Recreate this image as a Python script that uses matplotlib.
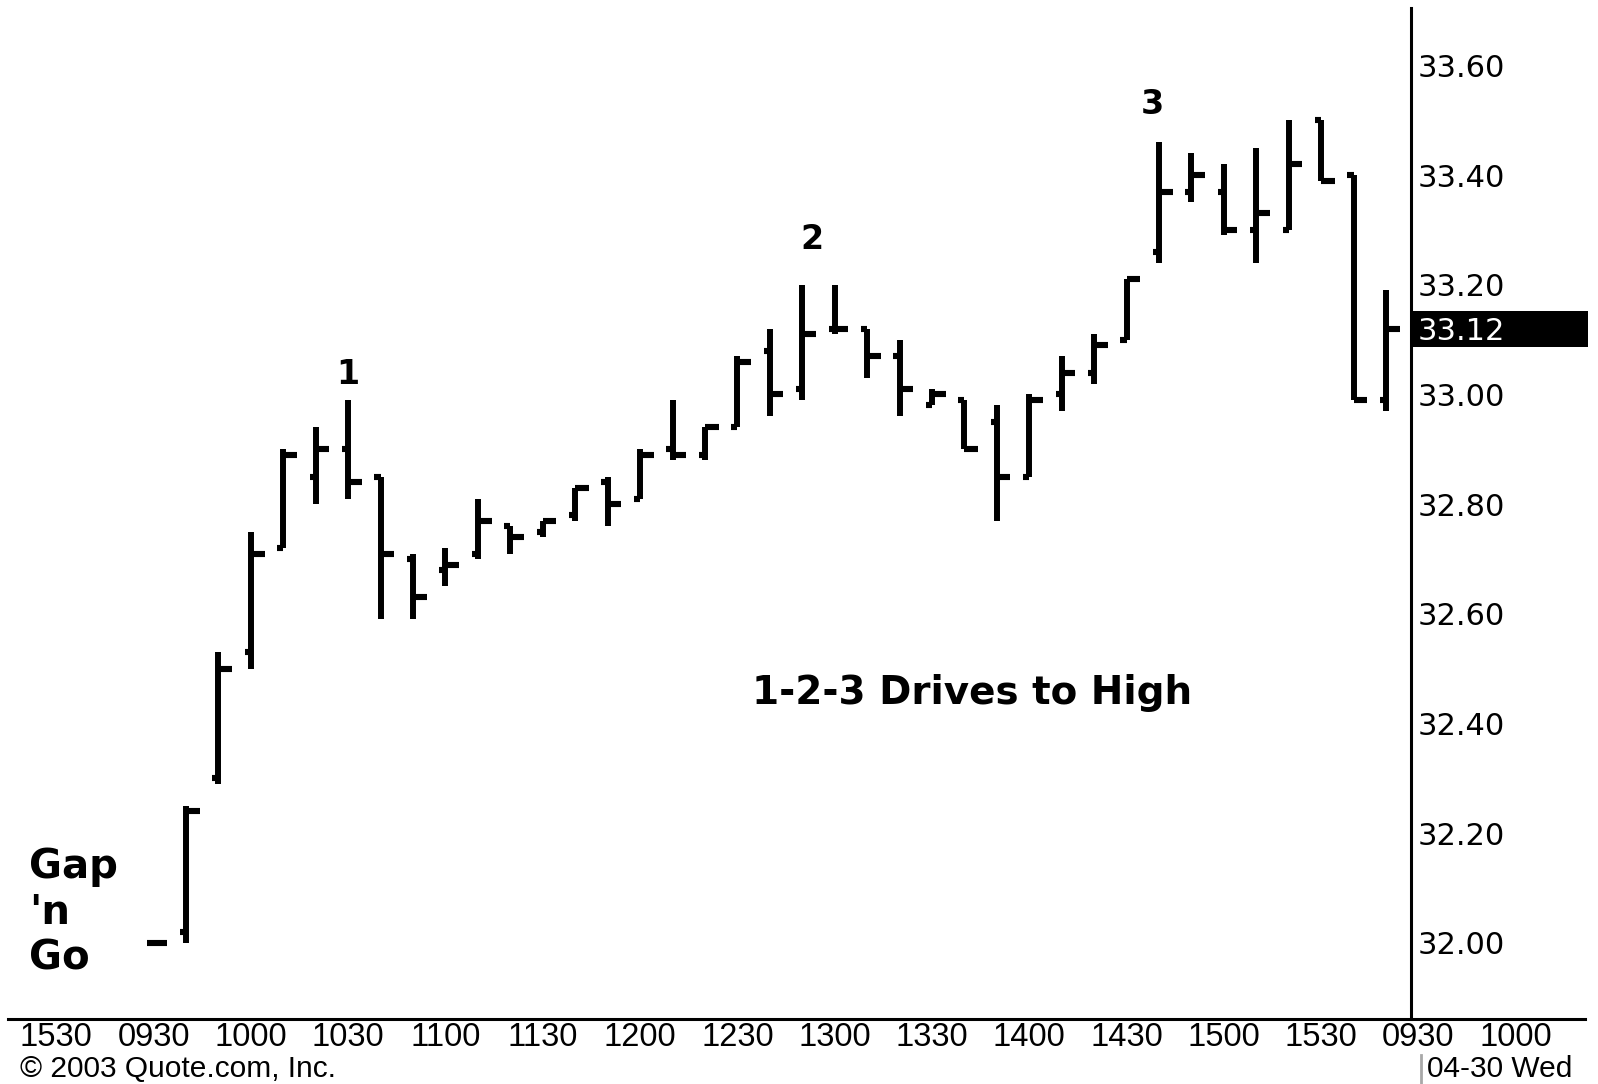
#!/usr/bin/env python3
"""
10-minute OHLC bar chart: gap open followed by 1-2-3 drives to a high (04-30-2003).
"""

import matplotlib
matplotlib.use('Agg')
import matplotlib.pyplot as plt
from matplotlib.patches import Rectangle
from matplotlib.lines import Line2D
from matplotlib.transforms import blended_transform_factory

# bar 0 is the 0930 opening print, then 10-minute bars (labelled by end time)
bar_index = list(range(39))
opens = [32.00, 32.02, 32.30, 32.53, 32.72, 32.85, 32.90, 32.85, 32.70, 32.68,
         32.71, 32.76, 32.75, 32.78, 32.84, 32.81, 32.90, 32.89, 32.94, 33.08,
         33.01, 33.12, 33.12, 33.07, 32.98, 32.99, 32.95, 32.85, 33.00, 33.04,
         33.10, 33.26, 33.37, 33.37, 33.30, 33.30, 33.50, 33.40, 32.99]
highs = [32.00, 32.25, 32.53, 32.75, 32.90, 32.94, 32.99, 32.85, 32.71, 32.72,
         32.81, 32.76, 32.77, 32.83, 32.85, 32.90, 32.99, 32.94, 33.07, 33.12,
         33.20, 33.20, 33.12, 33.10, 33.01, 32.99, 32.98, 33.00, 33.07, 33.11,
         33.21, 33.46, 33.44, 33.42, 33.45, 33.50, 33.50, 33.40, 33.19]
lows = [32.00, 32.00, 32.29, 32.50, 32.72, 32.80, 32.81, 32.59, 32.59, 32.65,
        32.70, 32.71, 32.74, 32.77, 32.76, 32.81, 32.88, 32.88, 32.94, 32.96,
        32.99, 33.11, 33.03, 32.96, 32.98, 32.90, 32.77, 32.85, 32.97, 33.02,
        33.10, 33.24, 33.35, 33.29, 33.24, 33.30, 33.39, 32.99, 32.97]
closes = [32.00, 32.24, 32.50, 32.71, 32.89, 32.90, 32.84, 32.71, 32.63, 32.69,
          32.77, 32.74, 32.77, 32.83, 32.80, 32.89, 32.89, 32.94, 33.06, 33.00,
          33.11, 33.12, 33.07, 33.01, 33.00, 32.90, 32.85, 32.99, 33.04, 33.09,
          33.21, 33.37, 33.40, 33.30, 33.33, 33.42, 33.39, 32.99, 33.12]

time_ticks = [-3, 0, 3, 6, 9, 12, 15, 18, 21, 24, 27, 30, 33, 36, 39, 42]
time_labels = ['1530', '0930', '1000', '1030', '1100', '1130', '1200', '1230',
               '1300', '1330', '1400', '1430', '1500', '1530', '0930', '1000']
price_ticks = [32.00, 32.20, 32.40, 32.60, 32.80, 33.00, 33.20, 33.40, 33.60]
last_price = 33.12

swing_labels = ['1', '2', '3']
swing_x = [6.0, 20.3, 30.8]
swing_y = [33.036, 33.282, 33.528]

W, H = 1598, 1084


def px_box(x0, y0, x1, y1):
    """Axes rectangle from pixel corners (origin top-left)."""
    return [x0 / W, 1 - y1 / H, (x1 - x0) / W, (y1 - y0) / H]


def draw_bars(ax):
    """Classic OHLC bars: short open tick left, longer close tick right."""
    ax.vlines(bar_index, lows, highs, color='black', linewidth=4.3, capstyle='butt')
    ax.hlines(opens, [i - 0.19 for i in bar_index], bar_index,
              color='black', linewidth=4.4, capstyle='butt')
    ax.hlines(closes, bar_index, [i + 0.42 for i in bar_index],
              color='black', linewidth=4.4, capstyle='butt')


def main():
    plt.rcParams['font.family'] = ['DejaVu Sans']
    fig = plt.figure(figsize=(W / 100, H / 100), dpi=100)
    fig.patch.set_facecolor('white')

    # time axis runs on under the price scale
    ax_t = fig.add_axes(px_box(8, 8, 1585, 1019))
    ax_t.set_xlim(-4.49, 44.14)
    ax_t.set_ylim(0, 1)
    for s in ['top', 'left', 'right']:
        ax_t.spines[s].set_visible(False)
    ax_t.spines['bottom'].set_linewidth(2.2)
    ax_t.set_yticks([])
    ax_t.set_xticks(time_ticks, time_labels)
    ax_t.tick_params(axis='x', length=0, pad=2.5, labelsize=23.5)
    for lbl in ax_t.get_xticklabels():
        lbl.set_family(['Liberation Sans', 'DejaVu Sans'])

    # price pane
    ax = fig.add_axes(px_box(0, 8, 1411, 1019))
    ax.patch.set_visible(False)
    ax.set_xlim(-4.736, 38.77)
    ax.set_ylim(31.8614, 33.7046)
    for s in ['top', 'left', 'bottom']:
        ax.spines[s].set_visible(False)
    ax.spines['right'].set_linewidth(2.2)
    ax.set_xticks([])
    ax.yaxis.tick_right()
    ax.set_yticks(price_ticks, [f'{p:.2f}' for p in price_ticks])
    ax.tick_params(axis='y', length=0, pad=5, labelsize=22)

    draw_bars(ax)

    # last price flag
    trans = blended_transform_factory(fig.transFigure, ax.transData)
    ax.add_patch(Rectangle((1412 / W, last_price - 0.034), (1588 - 1412) / W, 0.067,
                           transform=trans, facecolor='black', edgecolor='none',
                           clip_on=False))
    ax.text(1418 / W, last_price, f'{last_price:.2f}', transform=trans, color='white',
            fontsize=22, ha='left', va='center_baseline', clip_on=False)

    # annotations
    for lab, x, y in zip(swing_labels, swing_x, swing_y):
        ax.text(x, y, lab, fontsize=24, fontweight='bold', ha='center', va='center')
    ax.text(18.45, 32.455, '1-2-3 Drives to High', fontsize=28, fontweight='bold',
            ha='left', va='center')
    ax.text(-3.85, 32.175, "Gap\n'n\nGo", fontsize=29, fontweight='bold',
            ha='left', va='top', linespacing=1.19)

    # footer, squeezed against the bottom edge
    fig.text(20 / W, 1 / H, '\u00a9 2003 Quote.com, Inc.', fontsize=21.5,
             family=['Liberation Sans', 'DejaVu Sans'], ha='left', va='bottom')
    fig.text(1427 / W, 1 / H, '04-30 Wed', fontsize=21.5,
             family=['Liberation Sans', 'DejaVu Sans'], ha='left', va='bottom')
    fig.add_artist(Line2D([1421 / W, 1421 / W], [0, 1 - 1055 / H],
                          transform=fig.transFigure, color='#a8a8a8', linewidth=2))

    fig.savefig('out.png', dpi=100, facecolor='white')


if __name__ == '__main__':
    main()
